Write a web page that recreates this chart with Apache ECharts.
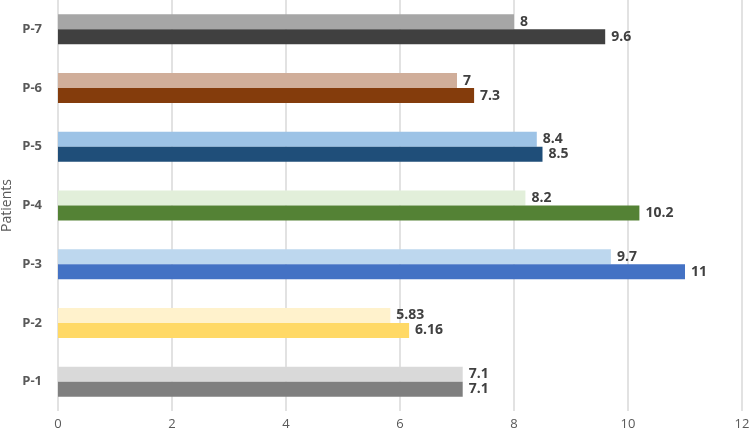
<!DOCTYPE html>
<html><head><meta charset="utf-8">
<script src="https://cdn.jsdelivr.net/npm/echarts@6/dist/echarts.min.js"></script>
<style>html,body{margin:0;padding:0;background:#fff}#c{width:750px;height:432px}</style>
</head><body><div id="c"></div>
<script>
const categories = ['P-1','P-2','P-3','P-4','P-5','P-6','P-7'];
const lightValues = [7.1, 5.83, 9.7, 8.2, 8.4, 7, 8];
const darkValues = [7.1, 6.16, 11, 10.2, 8.5, 7.3, 9.6];
const lightColors = ['#d9d9d9','#fff2cc','#bdd7ee','#e2efda','#9dc3e6','#d0ae9a','#a6a6a6'];
const darkColors = ['#7f7f7f','#ffd966','#4472c4','#548235','#1f4e79','#843c0c','#404040'];
const xTicks = {min: 0, max: 12, interval: 2};

const font = 'Open Sans';
const chart = echarts.init(document.getElementById('c'));
const lbl = {show: true, position: 'right', distance: 6, color: '#404040', fontSize: 14, fontWeight: 'bold', fontFamily: font};
chart.setOption({
  animation: false,
  grid: {left: 58, right: 8, top: 0, bottom: 21, containLabel: false, outerBoundsMode: 'none'},
  xAxis: {
    type: 'value', min: xTicks.min, max: xTicks.max, interval: xTicks.interval,
    axisLine: {show: false}, axisTick: {show: false},
    splitLine: {lineStyle: {color: '#d9d9d9', width: 1.5}},
    axisLabel: {color: '#595959', fontSize: 13, fontFamily: font, margin: 7}
  },
  yAxis: {
    type: 'category', data: categories,
    name: 'Patients', nameLocation: 'middle', nameGap: 44, nameRotate: 90, nameMoveOverlap: false,
    nameTextStyle: {color: '#595959', fontSize: 14, fontFamily: font},
    axisLine: {show: false}, axisTick: {show: false},
    axisLabel: {color: '#595959', fontSize: 13, fontFamily: font, fontWeight: 'bold', margin: 16}
  },
  series: [
    {type: 'bar', barWidth: 15, barGap: '0%',
     data: lightValues.map((v,i)=>({value: v, itemStyle: {color: lightColors[i]}})),
     label: lbl},
    {type: 'bar', barWidth: 15, barGap: '0%',
     data: darkValues.map((v,i)=>({value: v, itemStyle: {color: darkColors[i]}})),
     label: lbl}
  ]
});
</script></body></html>
